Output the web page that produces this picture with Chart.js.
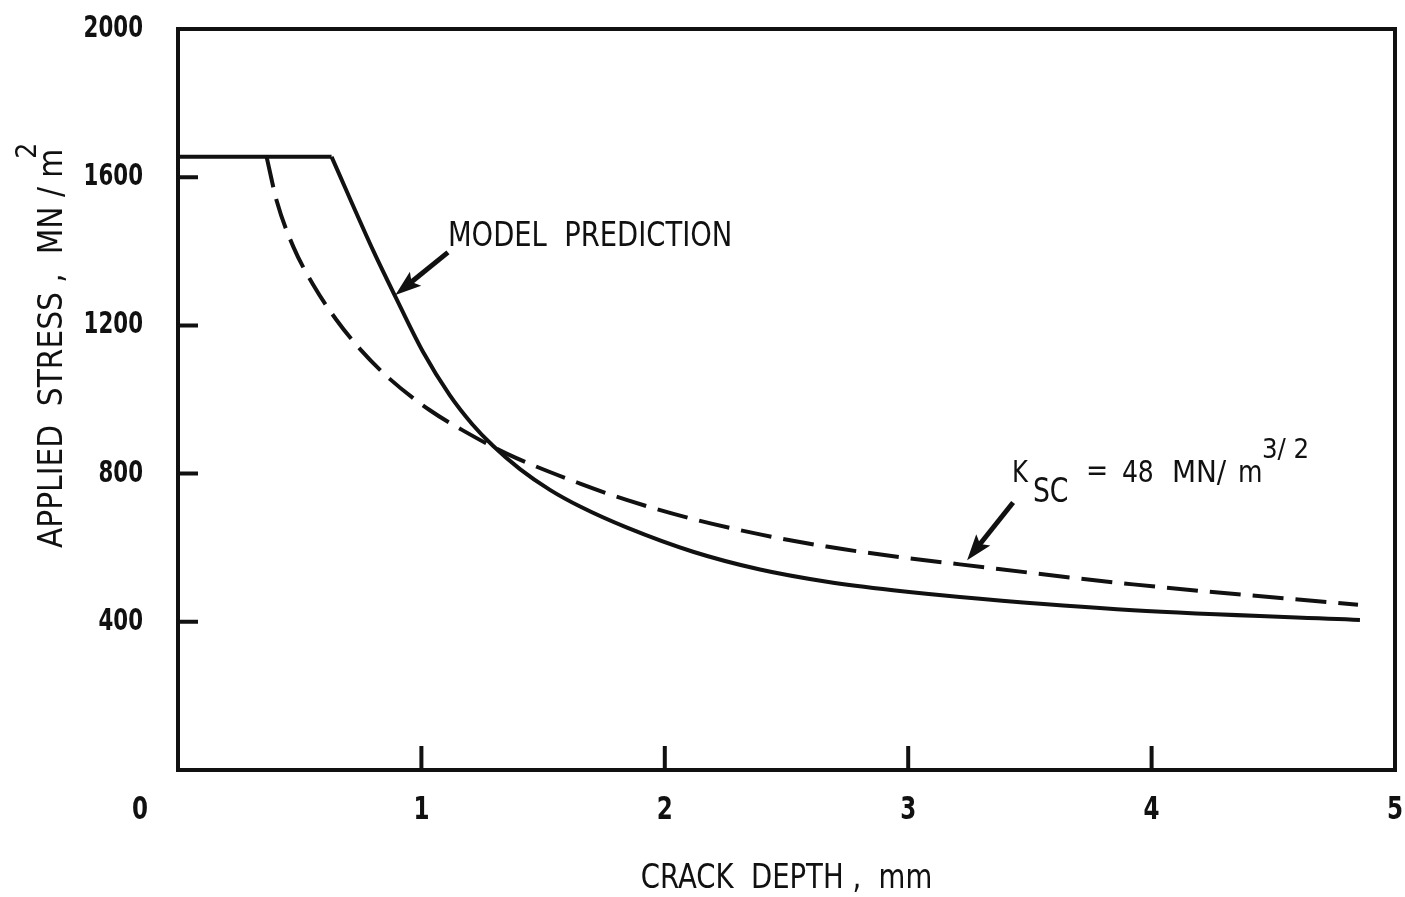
<!DOCTYPE html>
<html>
<head>
<meta charset="utf-8">
<script src="https://cdn.jsdelivr.net/npm/chart.js@4.4.0/dist/chart.umd.min.js"></script>
<style>
  html, body { margin: 0; padding: 0; background: #fff; }
  #wrap { width: 1405px; height: 897px; position: relative; }
</style>
</head>
<body>
<div id="wrap"><canvas id="stressChart"></canvas></div>
<script>
// crack depth (mm) vs applied stress (MN/m^2)
const plateauDepth  = [0, 0.631];
const plateauStress = [1655, 1655];

const modelDepth  = [0.631, 0.804, 0.892, 1.007, 1.117, 1.208, 1.294, 1.405, 1.528, 1.652, 1.845, 2.116, 2.391, 2.666, 2.938, 3.295, 3.924, 4.856];
const modelStress = [1655, 1399, 1279, 1128, 1011, 934, 875, 812, 756, 711, 654, 589, 541, 508, 485, 462, 431, 405];

const kscDepth  = [0.364, 0.406, 0.474, 0.556, 0.652, 0.748, 0.871, 1.035, 1.172, 1.350, 1.652, 1.843, 2.117, 2.391, 2.665, 2.939, 3.213, 3.924, 4.848];
const kscStress = [1655, 1535, 1412, 1309, 1214, 1136, 1055, 971, 916, 854, 773, 729, 677, 636, 603, 577, 555, 501, 446];

const xTicks = [0, 1, 2, 3, 4, 5];
const yTicks = [0, 400, 800, 1200, 1600, 2000];

const INK = '#111';
const FONT = "'DejaVu Sans Condensed', 'DejaVu Sans', sans-serif";

const toPoints = (xs, ys) => xs.map((v, i) => ({ x: v, y: ys[i] }));

// text squeezed horizontally to get the narrow lettering of the original
function label(ctx, str, x, y, size, sx, opts = {}) {
  ctx.save();
  ctx.translate(x, y);
  ctx.scale(sx, 1);
  ctx.font = (opts.weight || 'normal') + ' ' + size + 'px ' + FONT;
  ctx.textAlign = opts.align || 'left';
  ctx.textBaseline = opts.baseline || 'alphabetic';
  ctx.fillText(str, 0, 0);
  ctx.restore();
}

function drawArrow(ctx, x1, y1, x2, y2) {
  const ang = Math.atan2(y2 - y1, x2 - x1);
  const head = 26, half = 9;
  const c = Math.cos(ang), s = Math.sin(ang);
  ctx.beginPath();
  ctx.moveTo(x1, y1);
  ctx.lineTo(x2 - c * head * 0.7, y2 - s * head * 0.7);
  ctx.lineWidth = 5;
  ctx.stroke();
  ctx.beginPath();
  ctx.moveTo(x2, y2);
  ctx.lineTo(x2 - head * c + half * s, y2 - head * s - half * c);
  ctx.lineTo(x2 - head * c * 0.8, y2 - head * s * 0.8);
  ctx.lineTo(x2 - head * c - half * s, y2 - head * s + half * c);
  ctx.closePath();
  ctx.fill();
}

// frame, inward ticks, tick labels, annotations and axis titles
const paperPlugin = {
  id: 'paper',
  afterDraw(chart) {
    const { ctx, chartArea: a, scales: { x, y } } = chart;
    ctx.save();
    ctx.strokeStyle = INK;
    ctx.fillStyle = INK;
    ctx.lineWidth = 4;
    ctx.strokeRect(a.left, a.top, a.right - a.left, a.bottom - a.top);

    ctx.beginPath();
    xTicks.slice(1, -1).forEach(v => {
      const px = x.getPixelForValue(v);
      ctx.moveTo(px, a.bottom); ctx.lineTo(px, a.bottom - 24);
    });
    yTicks.slice(1, -1).forEach(v => {
      const py = y.getPixelForValue(v);
      ctx.moveTo(a.left, py); ctx.lineTo(a.left + 20, py);
    });
    ctx.stroke();

    // tick labels from the scales' own ticks
    y.ticks.forEach(t => {
      if (t.value === 0) return;
      label(ctx, String(t.value), a.left - 35, y.getPixelForValue(t.value), 31, 0.765,
        { weight: 'bold', align: 'right', baseline: 'middle' });
    });
    x.ticks.forEach(t => {
      // the origin "0" sits below-left of the corner
      const px = x.getPixelForValue(t.value) - (t.value === 0 ? 38 : 0);
      label(ctx, String(t.value), px, 811, 32, 0.8, { weight: 'bold', align: 'center', baseline: 'middle' });
    });

    // axis titles
    label(ctx, 'CRACK  DEPTH ,  mm', (a.left + a.right) / 2, 888, 34, 0.9, { align: 'center' });
    ctx.save();
    ctx.translate(62, 548);
    ctx.rotate(-Math.PI / 2);
    ctx.font = '33px ' + FONT;
    const yTitle = 'APPLIED  STRESS ,  MN / m';
    ctx.fillText(yTitle, 0, 0);
    const w = ctx.measureText(yTitle).width;
    ctx.font = '28px ' + FONT;
    ctx.fillText('2', w - 10, -26);
    ctx.restore();

    // MODEL PREDICTION
    label(ctx, 'MODEL  PREDICTION', x.getPixelForValue(1.109), y.getPixelForValue(1413), 34, 0.896);
    drawArrow(ctx, x.getPixelForValue(1.109), y.getPixelForValue(1397), x.getPixelForValue(0.893), y.getPixelForValue(1282));

    // K_SC = 48 MN/m^3/2
    const kx = x.getPixelForValue(3.426);
    const ky = y.getPixelForValue(776);
    label(ctx, 'K', kx, ky, 30, 0.9);
    label(ctx, 'SC', kx + 21, ky + 20, 33, 0.9);
    label(ctx, '=', kx + 74, ky - 2, 31, 0.95);
    label(ctx, '48', kx + 110, ky, 31, 0.9);
    label(ctx, 'MN/', kx + 160, ky, 31, 1.0);
    label(ctx, 'm', kx + 226, ky, 31, 0.9);
    label(ctx, '3/ 2', kx + 250, ky - 24, 26, 1.05);
    drawArrow(ctx, x.getPixelForValue(3.431), y.getPixelForValue(722), x.getPixelForValue(3.242), y.getPixelForValue(566));
    ctx.restore();
  }
};

new Chart(document.getElementById('stressChart'), {
  type: 'line',
  data: {
    datasets: [
      { data: toPoints(plateauDepth, plateauStress), borderColor: INK, borderWidth: 4 },
      { data: toPoints(modelDepth, modelStress), borderColor: INK, borderWidth: 4, cubicInterpolationMode: 'monotone' },
      { data: toPoints(kscDepth, kscStress), borderColor: INK, borderWidth: 4, borderDash: [31, 12], cubicInterpolationMode: 'monotone' }
    ]
  },
  options: {
    responsive: true,
    maintainAspectRatio: false,
    animation: false,
    layout: { padding: { top: 29, right: 10, left: 0, bottom: 0 } },
    elements: { point: { radius: 0 }, line: { borderCapStyle: 'butt' } },
    plugins: { legend: { display: false }, tooltip: { enabled: false } },
    scales: {
      x: {
        type: 'linear', min: 0, max: 5,
        afterFit: s => { s.height = 127; s.paddingLeft = 0; s.paddingRight = 0; },
        grid: { display: false, drawTicks: false, tickLength: 0 },
        border: { display: false },
        ticks: { display: false, stepSize: 1 }
      },
      y: {
        min: 0, max: 2000,
        afterFit: s => { s.width = 178; s.paddingTop = 0; s.paddingBottom = 0; },
        grid: { display: false, drawTicks: false, tickLength: 0 },
        border: { display: false },
        ticks: { display: false, stepSize: 400 }
      }
    }
  },
  plugins: [paperPlugin]
});
</script>
</body>
</html>
